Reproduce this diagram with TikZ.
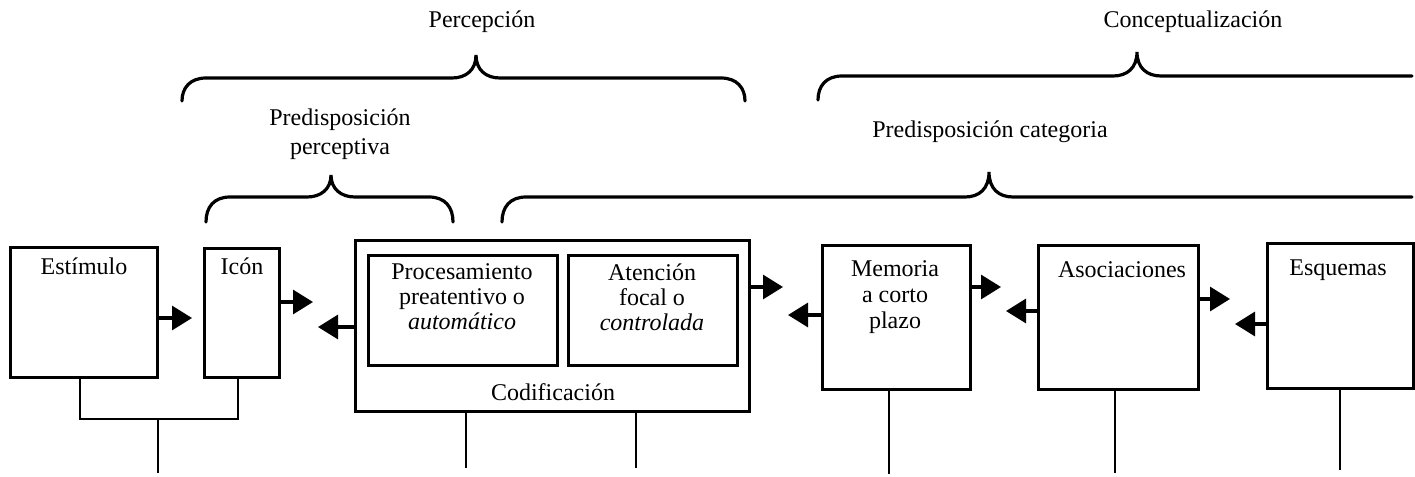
\documentclass[tikz,border=0pt]{standalone}
\usepackage{fontspec}
\setmainfont{Liberation Serif}
\usetikzlibrary{arrows.meta,fit}
\tikzset{
  boxst/.style={draw, line width=1.5pt, inner sep=0pt, outer sep=0pt},
  txt/.style={font=\fontsize{12}{12.5}\selectfont, inner sep=0pt, align=center},
  arr/.style={line width=1.6pt, -{Triangle[length=10pt,width=12pt]}},
  lnk/.style={line width=1.3pt},
  bracest/.style={line width=1.6pt, line cap=round}
}
\newcommand\mybrace[6]{% x1 x2 xt yh ye yt
  \draw[bracest] (#1,#5) .. controls (#1,#4+10) and (#1+8,#4) .. (#1+24,#4) -- (#3-24,#4)
    .. controls (#3-10,#4) and (#3,#4-8) .. (#3,#6)
    .. controls (#3,#4-8) and (#3+10,#4) .. (#3+24,#4) -- (#2-24,#4)
    .. controls (#2-8,#4) and (#2,#4+10) .. (#2,#5);}
\newcommand\mybraceopen[6]{% x1 x2 xt yh ye yt
  \draw[bracest] (#1,#5) .. controls (#1,#4+10) and (#1+8,#4) .. (#1+24,#4) -- (#3-24,#4)
    .. controls (#3-10,#4) and (#3,#4-8) .. (#3,#6)
    .. controls (#3,#4-8) and (#3+10,#4) .. (#3+24,#4) -- (#2,#4);}
\begin{document}
\begin{tikzpicture}[x=0.5pt,y=-0.5pt]
\useasboundingbox (0,0) rectangle (1415,477);
\fill[white] (0,0) rectangle (1415,477);
% boxes
\node[boxst, fit={(10,247) (157,377)}] (est) {};
\node[boxst, fit={(204,248) (279,377)}] (icon) {};
\node[boxst, fit={(355,240) (749,411)}] (cod) {};
\node[boxst, fit={(368,255) (557,365)}] (proc) {};
\node[boxst, fit={(568,255) (737,365)}] (aten) {};
\node[boxst, fit={(822,245) (970,389)}] (mem) {};
\node[boxst, fit={(1038,245) (1198,389)}] (asoc) {};
\node[boxst, fit={(1267,243) (1413,388)}] (esq) {};
% texts
\node[txt] (testim) at (84,266) {Estímulo};
\node[txt] (ticon) at (242,266) {Icón};
\node[txt] (tproc) at (462,297) {Procesamiento\\preatentivo o\\\textit{automático}};
\node[txt] (taten) at (652,297) {Atención\\focal o\\\textit{controlada}};
\node[txt] (tcod) at (553,392) {Codificación};
\node[txt, font=\fontsize{12}{13}\selectfont] (tmem) at (895,297) {Memoria\\a corto\\plazo};
\node[txt] (tasoc) at (1122,270) {Asociaciones};
\node[txt] (tesq) at (1338,270) {Esquemas};
\node[txt] (tperc) at (482,22) {Percepción};
\node[txt] (tconc) at (1193,22) {Conceptualización};
\node[txt, font=\fontsize{12}{14.5}\selectfont] (tpred) at (340,134) {Predisposición\\perceptiva};
\node[txt] (tcat) at (990,132) {Predisposición categoria};
% arrows
\draw[arr, shorten >=6pt] (est.east |- 0,318) -- (icon.west |- 0,318);
\draw[arr, shorten >=21pt] (icon.east |- 0,302) -- (cod.west |- 0,302);
\draw[arr, shorten >=19.5pt] (cod.west |- 0,327) -- (icon.east |- 0,327);
\draw[arr, shorten >=19.5pt] (cod.east |- 0,287) -- (mem.west |- 0,287);
\draw[arr, shorten >=19.5pt] (mem.west |- 0,315) -- (cod.east |- 0,315);
\draw[arr, shorten >=18.5pt] (mem.east |- 0,287) -- (asoc.west |- 0,287);
\draw[arr, shorten >=18pt] (asoc.west |- 0,311) -- (mem.east |- 0,311);
\draw[arr, shorten >=18.5pt] (asoc.east |- 0,299) -- (esq.west |- 0,299);
\draw[arr, shorten >=18.5pt] (esq.west |- 0,324) -- (asoc.east |- 0,324);
% lines below
\coordinate (ea) at (80,419);
\coordinate (ia) at (238,419);
\coordinate (sa) at (158,419);
\coordinate (sb) at (158,473);
\draw[lnk] (est.south -| ea) -- (ea) -- (ia) -- (icon.south -| ia);
\draw[lnk] (sa) -- (sb);
\coordinate (c1) at (466,468);
\coordinate (c2) at (636,468);
\coordinate (m1) at (889,474);
\coordinate (a1) at (1115,473);
\coordinate (q1) at (1340,470);
\draw[lnk] (cod.south -| c1) -- (c1);
\draw[lnk] (cod.south -| c2) -- (c2);
\draw[lnk] (mem.south -| m1) -- (m1);
\draw[lnk] (asoc.south -| a1) -- (a1);
\draw[lnk] (esq.south -| q1) -- (q1);
% braces
\mybrace{182}{745}{476}{78}{101}{55}
\mybrace{206}{453}{331}{197}{222}{175}
\mybraceopen{818}{1412}{1137}{76}{100}{52}
\mybraceopen{502}{1412}{989}{197}{222}{172}
\end{tikzpicture}
\end{document}
